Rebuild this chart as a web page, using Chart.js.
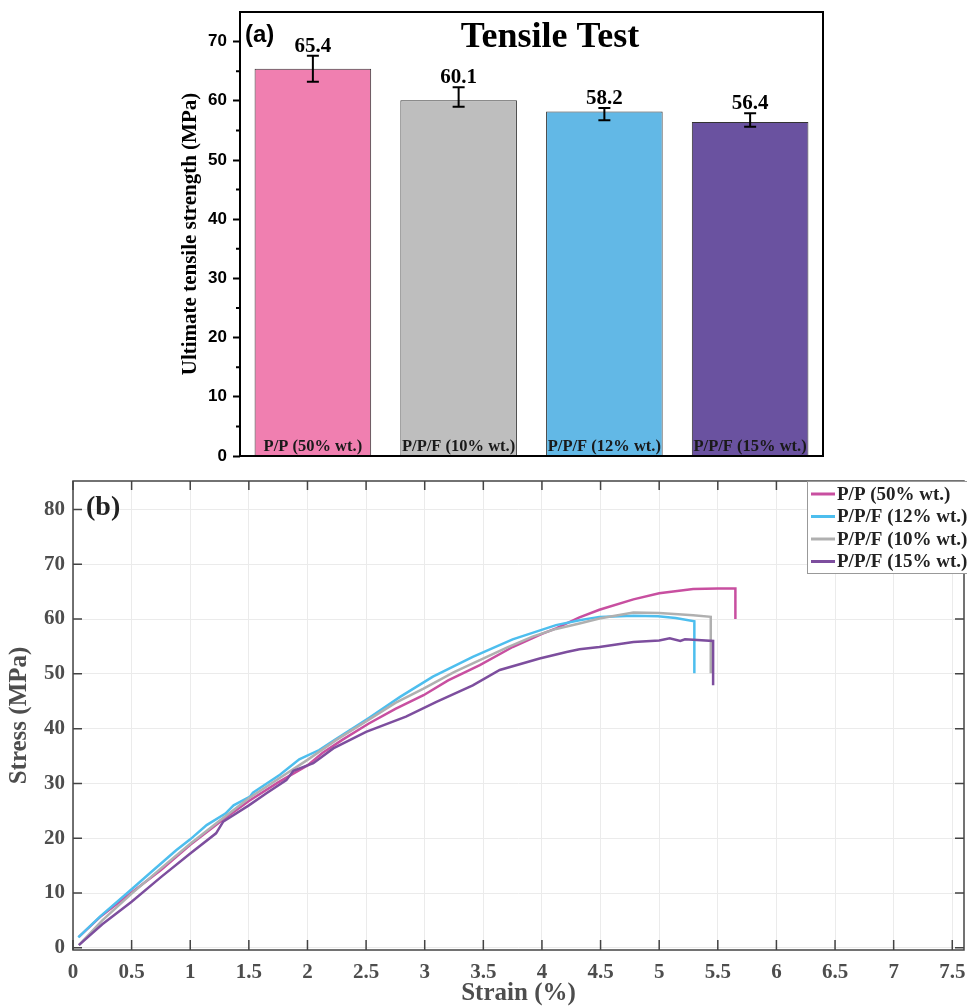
<!DOCTYPE html>
<html>
<head>
<meta charset="utf-8">
<script src="https://cdn.jsdelivr.net/npm/chart.js@4.4.0/dist/chart.umd.min.js"></script>
<style>
  html, body { margin: 0; padding: 0; background: #fff; }
  body { width: 967px; height: 1007px; position: relative; overflow: hidden; }
  #barWrap { position: absolute; left: 170px; top: 0; }
  #lineWrap { position: absolute; left: 0; top: 470px; }
</style>
</head>
<body>
<div id="barWrap"><canvas id="barChart" width="660" height="470"></canvas></div>
<div id="lineWrap"><canvas id="lineChart" width="967" height="537"></canvas></div>
<script>
// (a) bar chart data
const barLabels = ['P/P (50% wt.)', 'P/P/F (10% wt.)', 'P/P/F (12% wt.)', 'P/P/F (15% wt.)'];
const barValues = [65.4, 60.1, 58.2, 56.4];
const errLow = [63.2, 59.0, 56.7, 55.6];
const errHigh = [67.6, 62.3, 58.8, 57.9];
const barColors = ['#F07FB0', '#BEBEBE', '#62B8E6', '#6A52A0'];
const barTicks = [0, 10, 20, 30, 40, 50, 60, 70];

// (b) stress-strain curves
const strainTicks = [0, 0.5, 1, 1.5, 2, 2.5, 3, 3.5, 4, 4.5, 5, 5.5, 6, 6.5, 7, 7.5];
const stressTicks = [0, 10, 20, 30, 40, 50, 60, 70, 80];

const pp50Strain = [0.05, 0.23, 0.5, 0.75, 1.0, 1.25, 1.5, 1.75, 2.0, 2.13, 2.3, 2.52, 2.75, 2.99, 3.2, 3.47, 3.75, 4.0, 4.12, 4.32, 4.49, 4.78, 5.0, 5.29, 5.5, 5.65, 5.65];
const pp50Stress = [2.0, 5.6, 10.1, 14.2, 18.8, 22.9, 26.8, 30.2, 33.3, 35.6, 38.0, 40.9, 43.6, 46.1, 48.8, 51.6, 54.9, 57.3, 58.3, 60.3, 61.7, 63.6, 64.7, 65.5, 65.6, 65.6, 60.0];

const ppf12Strain = [0.045, 0.23, 0.5, 0.66, 0.88, 1.0, 1.14, 1.3, 1.37, 1.51, 1.535, 1.765, 1.93, 2.1, 2.23, 2.52, 2.79, 3.07, 3.41, 3.75, 4.12, 4.32, 4.49, 4.78, 4.99, 5.14, 5.3, 5.3];
const ppf12Stress = [1.9, 5.7, 10.7, 13.7, 17.8, 19.8, 22.4, 24.5, 26.0, 27.6, 28.3, 31.6, 34.4, 36.1, 37.9, 41.9, 45.8, 49.5, 53.1, 56.3, 58.9, 59.8, 60.4, 60.6, 60.5, 60.2, 59.6, 50.1];

const ppf10Strain = [0.05, 0.25, 0.5, 0.75, 1.0, 1.25, 1.5, 1.75, 2.0, 2.25, 2.52, 2.75, 2.99, 3.25, 3.47, 3.7, 3.92, 4.12, 4.32, 4.49, 4.78, 5.0, 5.29, 5.44, 5.44];
const ppf10Stress = [0.5, 5.0, 9.9, 14.5, 19.0, 23.2, 27.3, 30.8, 34.3, 38.0, 41.6, 44.7, 47.3, 50.3, 52.5, 54.8, 56.8, 58.2, 59.2, 60.1, 61.2, 61.1, 60.7, 60.4, 50.1];

const ppf15Strain = [0.05, 0.25, 0.5, 0.75, 1.0, 1.22, 1.28, 1.5, 1.65, 1.82, 1.88, 2.05, 2.22, 2.5, 2.84, 3.1, 3.41, 3.64, 3.98, 4.21, 4.32, 4.49, 4.78, 5.0, 5.09, 5.18, 5.22, 5.46, 5.46];
const ppf15Stress = [0.5, 4.3, 8.4, 12.9, 17.2, 20.9, 23.0, 26.0, 28.2, 30.6, 32.3, 33.7, 36.4, 39.4, 42.2, 44.9, 47.9, 50.7, 52.8, 54.0, 54.5, 54.9, 55.8, 56.1, 56.5, 56.0, 56.3, 56.0, 47.9];

const serif = '"Liberation Serif", "Times New Roman", serif';
const sans = '"Liberation Sans", Arial, sans-serif';

// error bars, labels, frame for (a)
const barDecor = {
  id: 'barDecor',
  afterDatasetsDraw(chart) {
    const {ctx, chartArea: a, scales: {x, y}} = chart;
    ctx.save();
    ctx.strokeStyle = '#000';
    ctx.fillStyle = '#000';
    ctx.lineWidth = 2;
    barValues.forEach((v, i) => {
      const px = x.getPixelForValue(i);
      const hi = y.getPixelForValue(errHigh[i]);
      const lo = y.getPixelForValue(errLow[i]);
      ctx.beginPath();
      ctx.moveTo(px, hi); ctx.lineTo(px, lo);
      ctx.moveTo(px - 6, hi); ctx.lineTo(px + 6, hi);
      ctx.moveTo(px - 6, lo); ctx.lineTo(px + 6, lo);
      ctx.stroke();
      ctx.font = 'bold 21px ' + serif;
      ctx.textAlign = 'center';
      ctx.textBaseline = 'alphabetic';
      ctx.fillText(v.toFixed(1), px, hi - 4);
      ctx.font = 'bold 16.5px ' + serif;
      ctx.fillStyle = '#1a1a1a';
      ctx.textBaseline = 'middle';
      ctx.fillText(barLabels[i], px, a.bottom - 9);
      ctx.fillStyle = '#000';
    });
    ctx.font = 'bold 36px ' + serif;
    ctx.textAlign = 'center';
    ctx.textBaseline = 'alphabetic';
    ctx.fillText('Tensile Test', 380, 47);
    ctx.font = 'bold 24px ' + sans;
    ctx.textAlign = 'left';
    ctx.textBaseline = 'middle';
    ctx.fillText('(a)', 75, 35);
    // frame
    ctx.lineWidth = 2;
    ctx.strokeRect(a.left, a.top, a.right - a.left, a.bottom - a.top);
    // minor ticks
    ctx.beginPath();
    for (let v = 5; v < 75; v += 10) {
      const py = y.getPixelForValue(v);
      ctx.moveTo(a.left - 4, py); ctx.lineTo(a.left, py);
    }
    ctx.stroke();
    ctx.restore();
  }
};

new Chart(document.getElementById('barChart'), {
  type: 'bar',
  data: {
    labels: barLabels,
    datasets: [{
      data: barValues,
      backgroundColor: barColors,
      borderColor: '#333',
      borderWidth: 1,
      borderSkipped: 'bottom',
      barPercentage: 0.8,
      categoryPercentage: 1
    }]
  },
  options: {
    responsive: false,
    animation: false,
    layout: { padding: { top: 12, right: 7, left: 0, bottom: 0 } },
    plugins: { legend: { display: false }, tooltip: { enabled: false } },
    scales: {
      x: {
        ticks: { display: false },
        grid: { display: false, drawTicks: false },
        border: { display: false },
        afterFit: s => { s.height = 14; }
      },
      y: {
        min: 0,
        max: 75,
        afterBuildTicks: s => { s.ticks = barTicks.map(v => ({ value: v })); },
        ticks: { color: '#000', padding: 6, font: { family: sans, weight: 'bold', size: 17 } },
        grid: { drawOnChartArea: false, tickLength: 7, tickWidth: 2, tickColor: '#000' },
        border: { display: false },
        title: {
          display: true,
          text: 'Ultimate tensile strength (MPa)',
          color: '#000',
          font: { family: serif, weight: 'bold', size: 21 },
          padding: { top: 8, bottom: 0 }
        },
        afterFit: s => { s.width = 70; s.paddingTop = 0; s.paddingBottom = 0; }
      }
    }
  },
  plugins: [barDecor]
});

// (b) frame, inner ticks, label, legend
const lineDecor = {
  id: 'lineDecor',
  afterDraw(chart) {
    const {ctx, chartArea: a, scales: {x, y}} = chart;
    ctx.save();
    ctx.strokeStyle = '#444';
    ctx.lineWidth = 1.5;
    ctx.strokeRect(a.left, a.top, a.right - a.left, a.bottom - a.top);
    ctx.beginPath();
    strainTicks.forEach(v => {
      const px = x.getPixelForValue(v);
      ctx.moveTo(px, a.bottom); ctx.lineTo(px, a.bottom - 10);
      ctx.moveTo(px, a.top); ctx.lineTo(px, a.top + 9);
    });
    stressTicks.forEach(v => {
      const py = y.getPixelForValue(v);
      ctx.moveTo(a.left, py); ctx.lineTo(a.left + 9, py);
      ctx.moveTo(a.right, py); ctx.lineTo(a.right - 9, py);
    });
    ctx.stroke();

    ctx.fillStyle = '#222';
    ctx.font = 'bold 28px ' + serif;
    ctx.textAlign = 'left';
    ctx.textBaseline = 'middle';
    ctx.fillText('(b)', 86, 37.5);

    // legend box
    const bx = 807, by = 11, bw = 170, bh = 92;
    ctx.fillStyle = '#fff';
    ctx.fillRect(bx, by, bw, bh);
    ctx.strokeStyle = '#999';
    ctx.lineWidth = 1;
    ctx.strokeRect(bx + 0.5, by + 0.5, bw, bh);
    chart.data.datasets.forEach((ds, r) => {
      const ry = by + 13 + r * 22.5;
      ctx.strokeStyle = ds.borderColor;
      ctx.lineWidth = 3;
      ctx.beginPath();
      ctx.moveTo(811, ry); ctx.lineTo(835, ry);
      ctx.stroke();
      ctx.fillStyle = '#222';
      ctx.font = 'bold 19px ' + serif;
      ctx.fillText(ds.label, 837, ry + 1);
    });
    ctx.restore();
  }
};

function pts(xs, ys) {
  return xs.map((v, i) => ({ x: v, y: ys[i] }));
}

new Chart(document.getElementById('lineChart'), {
  type: 'scatter',
  data: {
    datasets: [
      { label: 'P/P (50% wt.)', data: pts(pp50Strain, pp50Stress), borderColor: '#C84FA0', order: 3 },
      { label: 'P/P/F (12% wt.)', data: pts(ppf12Strain, ppf12Stress), borderColor: '#4DBEEE', order: 2 },
      { label: 'P/P/F (10% wt.)', data: pts(ppf10Strain, ppf10Stress), borderColor: '#B0B0B0', order: 1 },
      { label: 'P/P/F (15% wt.)', data: pts(ppf15Strain, ppf15Stress), borderColor: '#7D4E9E', order: 0 }
    ].map(d => Object.assign(d, { showLine: true, pointRadius: 0, borderWidth: 2.5, tension: 0, fill: false }))
  },
  options: {
    responsive: false,
    animation: false,
    layout: { padding: { top: 11, right: 3, left: 0, bottom: 0 } },
    plugins: { legend: { display: false }, tooltip: { enabled: false } },
    scales: {
      x: {
        type: 'linear',
        min: 0,
        max: 7.6,
        afterBuildTicks: s => { s.ticks = strainTicks.map(v => ({ value: v })); },
        ticks: { color: '#4d4d4d', padding: 10, maxRotation: 0, callback: v => String(v), font: { family: serif, weight: 'bold', size: 21 } },
        grid: { color: '#ebebeb', lineWidth: 1, drawTicks: false },
        border: { display: false },
        title: {
          display: true,
          text: 'Strain (%)',
          color: '#4d4d4d',
          font: { family: serif, weight: 'bold', size: 25 },
          padding: { top: 0, bottom: -2 }
        },
        afterFit: s => { s.height = 57; s.paddingLeft = 0; s.paddingRight = 0; }
      },
      y: {
        min: -0.4,
        max: 85.2,
        afterBuildTicks: s => { s.ticks = stressTicks.map(v => ({ value: v })); },
        ticks: { color: '#4d4d4d', padding: 8, callback: v => String(v), font: { family: serif, weight: 'bold', size: 21 } },
        grid: { color: '#ebebeb', lineWidth: 1, drawTicks: false },
        border: { display: false },
        title: {
          display: true,
          text: 'Stress (MPa)',
          color: '#4d4d4d',
          font: { family: serif, weight: 'bold', size: 25 },
          padding: { top: 5, bottom: 0 }
        },
        afterFit: s => { s.width = 73; s.paddingTop = 0; s.paddingBottom = 0; }
      }
    }
  },
  plugins: [lineDecor]
});
</script>
</body>
</html>
